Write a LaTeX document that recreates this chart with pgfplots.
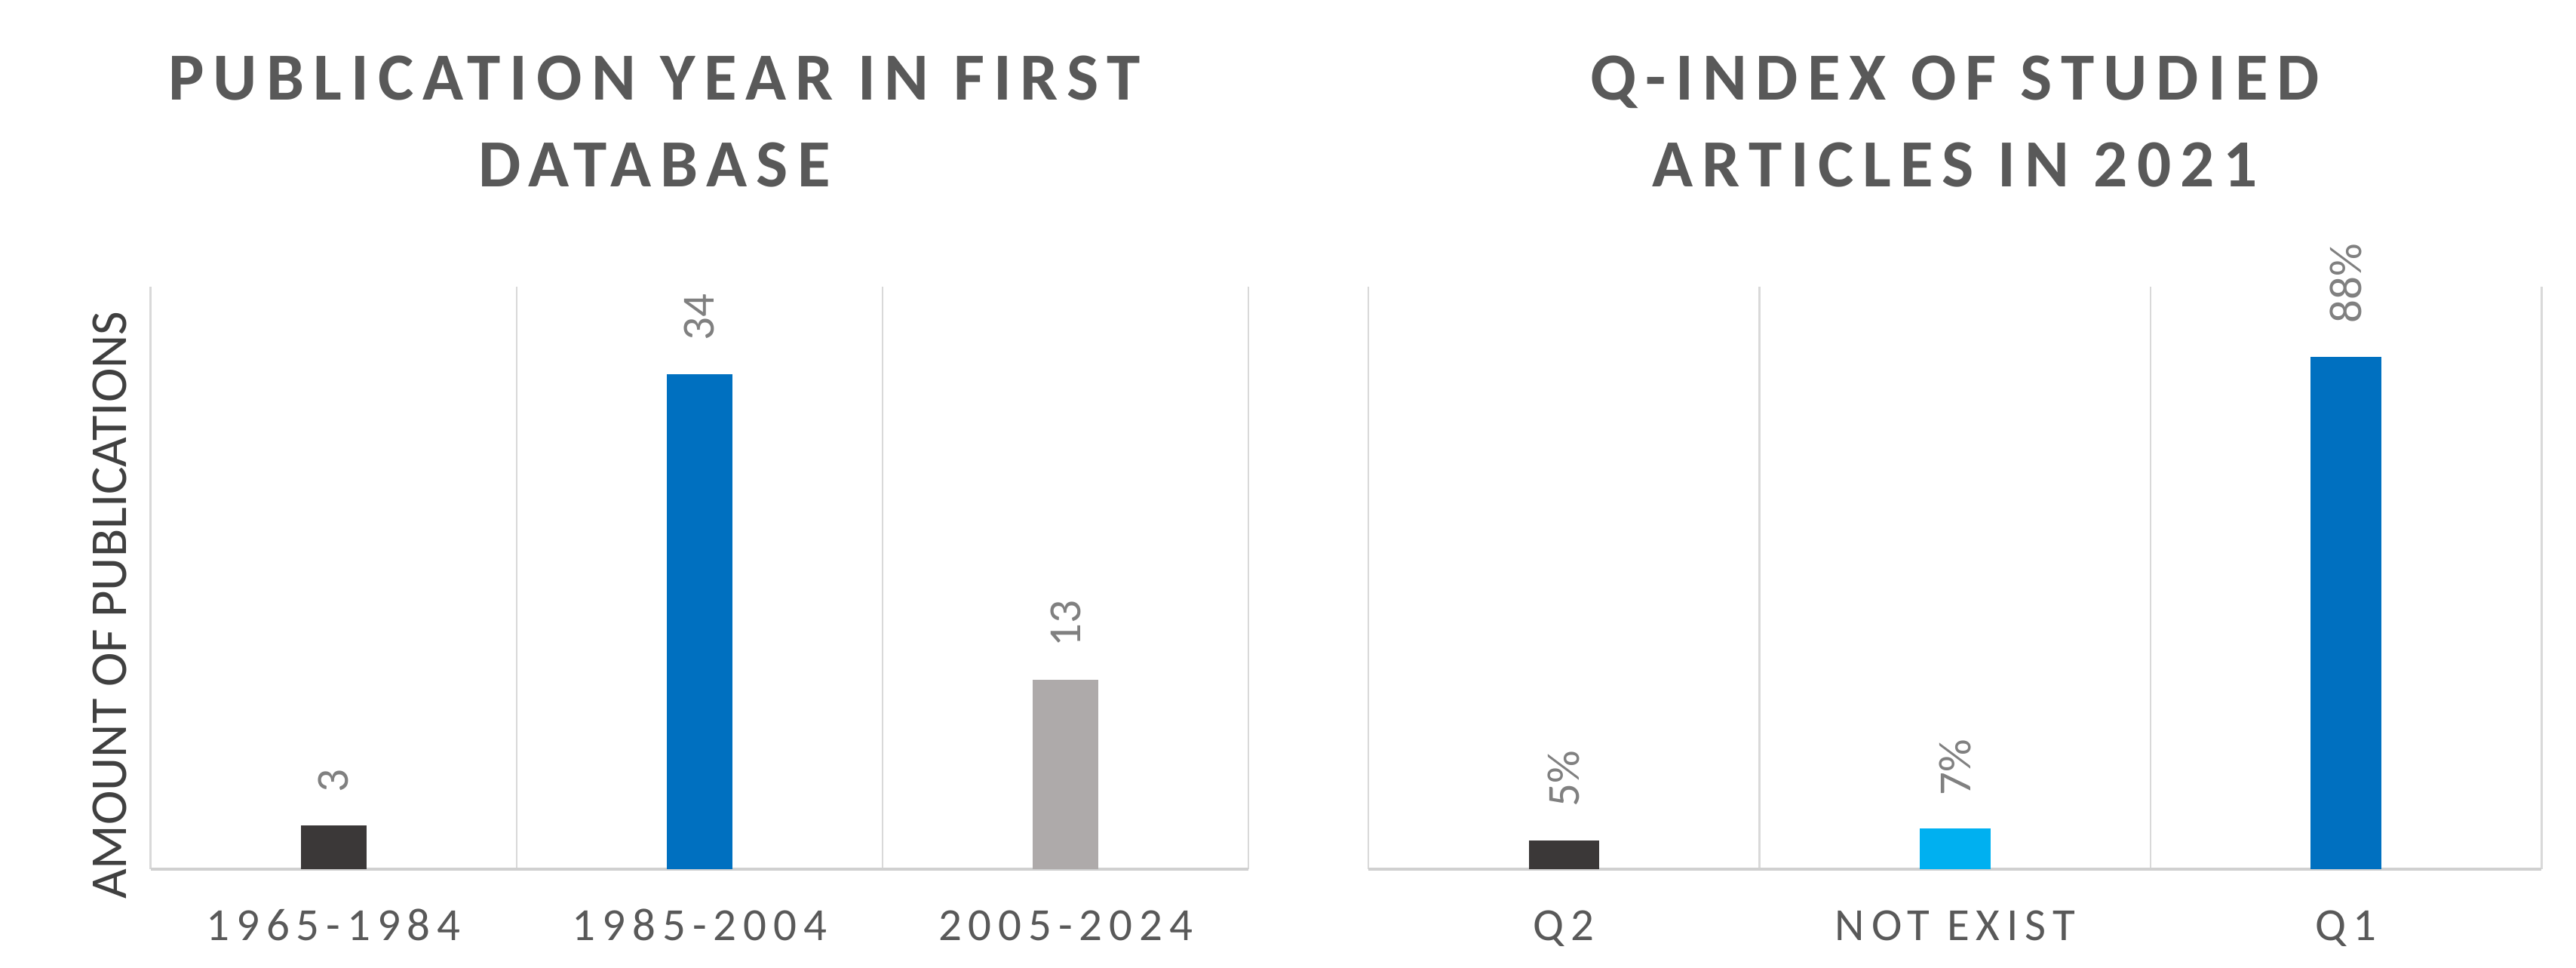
\documentclass[border=0pt]{standalone}
\usepackage{fontspec}
\usepackage{pgfplots}
\pgfplotsset{compat=1.18}
\setmainfont{Carlito}
\newfontfamily\titlefont[LetterSpace=13.5]{Carlito}
\newfontfamily\tickfont[LetterSpace=14.6]{Carlito}
\newfontfamily\labfont{Carlito}
\definecolor{gridc}{HTML}{D9D9D9}
\definecolor{axisc}{HTML}{D0D0D0}
\definecolor{titlec}{HTML}{595959}
\definecolor{tickc}{HTML}{595959}
\definecolor{ylabc}{HTML}{404040}
\definecolor{valc}{HTML}{808080}
\definecolor{darkbar}{HTML}{3B3838}
\definecolor{bluebar}{HTML}{0070C0}
\definecolor{graybar}{HTML}{AEAAAA}
\definecolor{lightbar}{HTML}{00B0F0}
\pgfplotsset{
 panel/.style={
  ybar,
  scale only axis, height=354.5pt,
  xmin=0.5, xmax=3.5, ymin=0,
  axis x line*=bottom,
  x axis line style={draw=axisc, line width=1.6pt, -},
  y axis line style={draw=none},
  ytick=\empty,
  xtick={1,2,3},
  major tick length=0pt, minor tick length=0pt,
  minor xtick={0.5,1.5,2.5,3.5},
  xminorgrids=true,
  minor grid style={draw=gridc, line width=1.1pt},
  xticklabel style={font=\tickfont\fontsize{28}{28}\selectfont, text=tickc, anchor=base, yshift=-43.5pt},
  title style={align=center, font=\titlefont\bfseries\fontsize{41}{52.5}\selectfont, text=titlec, anchor=south, inner sep=0pt, yshift=54.5pt},
  clip=false,
  /pgf/number format/assume math mode=true,
  nodes near coords style={font=\labfont\fontsize{28}{28}\selectfont, text=valc, rotate=90, anchor=west, inner xsep=20pt, inner ysep=0pt},
 }
}
\begin{document}
\begin{tikzpicture}
\useasboundingbox (0,0) rectangle (1568pt,589pt);
\begin{axis}[panel,
  at={(91.6pt,60pt)}, anchor=south west, width=668.4pt,
  ymax=40, bar width=40pt,
  xticklabels={1965-1984,1985-2004,2005-2024},
  title={PUBLICATION YEAR IN FIRST\\DATABASE},
  title style={at={(axis description cs:0.459,1)}},
  ylabel={AMOUNT OF PUBLICATIONS},
  ylabel style={at={(axis description cs:-0.0368,0.453)}, anchor=center, font=\labfont\fontsize{31.5}{31.5}\selectfont, text=ylabc},
  nodes near coords={\pgfmathprintnumber{\pgfplotspointmeta}},
]
\addplot[fill=darkbar, draw=none, bar shift=0pt, nodes near coords] coordinates {(1,3)};
\addplot[fill=bluebar, draw=none, bar shift=0pt, nodes near coords] coordinates {(2,34)};
\addplot[fill=graybar, draw=none, bar shift=0pt, nodes near coords] coordinates {(3,13)};
\end{axis}
\begin{axis}[panel,
  at={(833pt,60pt)}, anchor=south west, width=714pt,
  ymax=100, bar width=43pt,
  xticklabels={Q2,NOT EXIST,Q1},
  title={Q-INDEX OF STUDIED\\ARTICLES IN 2021},
  title style={at={(axis description cs:0.5,1)}},
  nodes near coords={\pgfmathprintnumber{\pgfplotspointmeta}\%},
]
\addplot[fill=darkbar, draw=none, bar shift=0pt, nodes near coords={\pgfmathprintnumber{\pgfplotspointmeta}\%}] coordinates {(1,5)};
\addplot[fill=lightbar, draw=none, bar shift=0pt, nodes near coords={\pgfmathprintnumber{\pgfplotspointmeta}\%}] coordinates {(2,7)};
\addplot[fill=bluebar, draw=none, bar shift=0pt, nodes near coords={\pgfmathprintnumber{\pgfplotspointmeta}\%}] coordinates {(3,88)};
\end{axis}
\end{tikzpicture}
\end{document}
